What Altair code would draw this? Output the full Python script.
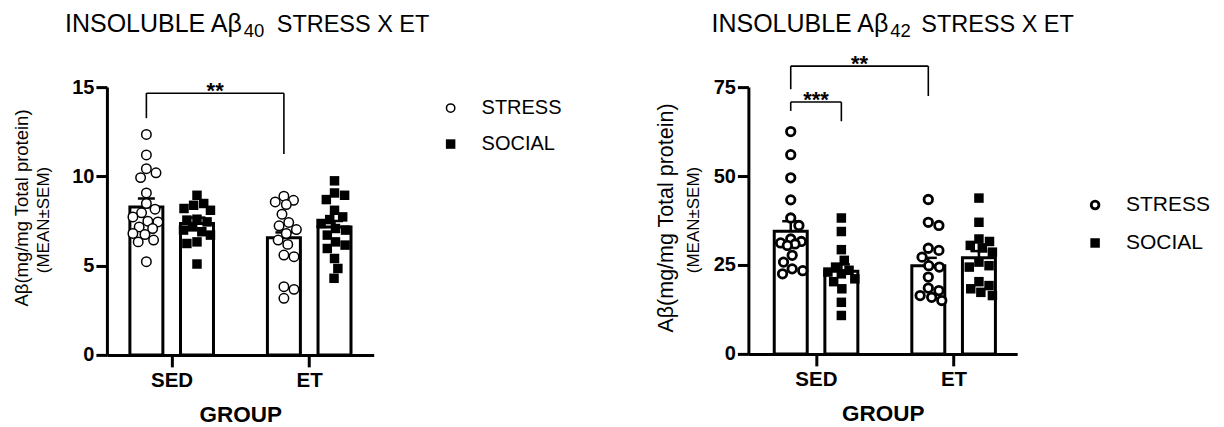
import altair as alt
import pandas as pd

FONT = "Liberation Sans"
GROUPS = ["SED", "ET"]
SERIES = ["STRESS", "SOCIAL"]

# ---------------- Panel 1: insoluble Abeta40 ----------------
A40_SED_STRESS = [12.35, 11.2, 10.43, 10.2, 9.93, 9.07, 8.48, 8.16, 7.96, 7.73,
                  7.49, 7.45, 7.17, 7.08, 6.8, 6.74, 6.43, 6.33, 5.22]
A40_SED_SOCIAL = [8.94, 8.48, 8.38, 8.2, 8.1, 7.6, 7.55, 7.45, 7.17, 6.99,
                  6.9, 6.71, 6.33, 6.24, 5.09]
A40_ET_STRESS = [8.89, 8.66, 8.57, 8.42, 7.88, 7.42, 7.23, 7.02, 6.8, 6.43,
                 6.19, 5.59, 5.5, 3.82, 3.67, 3.17]
A40_ET_SOCIAL = [9.75, 9.07, 8.94, 8.7, 8.1, 7.73, 7.58, 7.36, 7.08, 6.99,
                 6.71, 6.33, 6.15, 5.96, 5.4, 4.84, 4.29]
# bar order: SED-STRESS, SED-SOCIAL, ET-STRESS, ET-SOCIAL
A40_MEAN = [8.29, 7.36, 6.56, 7.17]
A40_SEM = [0.47, 0.33, 0.30, 0.33]
A40_TICKS = [0, 5, 10, 15]
A40_BRACKETS = [("SED", "STRESS", "ET", "STRESS", 14.66, 13.26, 11.25, "**")]

# ---------------- Panel 2: insoluble Abeta42 ----------------
A42_SED_STRESS = [62.5, 56.0, 49.5, 43.3, 38.2, 36.1, 32.3, 31.6, 31.2, 30.9,
                  30.5, 27.7, 25.8, 23.9, 23.4, 22.5]
A42_SED_SOCIAL = [38.2, 34.4, 29.3, 26.3, 24.4, 23.5, 23.0, 22.5, 21.1, 20.3,
                  18.3, 14.5, 10.8]
A42_ET_STRESS = [43.4, 37.0, 36.1, 29.7, 29.1, 27.2, 24.8, 24.4, 21.6, 18.5,
                 17.8, 16.4, 15.9, 15.0]
A42_ET_SOCIAL = [43.8, 37.0, 32.3, 31.6, 30.5, 29.8, 28.6, 25.8, 24.8, 24.4,
                 20.3, 19.2, 18.3, 17.3, 16.4]
A42_MEAN = [34.5, 23.25, 24.8, 27.0]
A42_SEM = [2.8, 1.9, 2.2, 1.9]
A42_TICKS = [0, 25, 50, 75]
A42_BRACKETS = [("SED", "STRESS", "ET", "STRESS", 80.9, 74.4, 72.5, "**"),
                ("SED", "STRESS", "SED", "SOCIAL", 70.8, 68.3, 65.4, "***")]

TITLE_MAIN = "INSOLUBLE A\u03b2"
TITLE_TAIL = "STRESS X ET"
Y_TITLE = "A\u03b2(mg/mg Total protein)"
Y_SUB = "(MEAN\u00b1SEM)"

# layout constants
GROUP_POS = {"SED": 0.0, "ET": 1.0}
SERIES_OFF = {"STRESS": -0.183, "SOCIAL": 0.185}
PX_PER_X = 143.0


def swarm(vals, ppu, diam, step=0.5, maxoff=14.0):
    """Simple beeswarm: horizontal pixel offsets so markers do not overlap."""
    n = int(maxoff / step)
    cands = sorted([k * step for k in range(-n, n + 1)], key=lambda c: (abs(c), -c))
    placed, offs = [], [0.0] * len(vals)
    for i in sorted(range(len(vals)), key=lambda j: -vals[j]):
        y = vals[i] * ppu
        best, best_d, best_c = None, -1, 0.0
        for c in cands:
            d = min([((c - px) ** 2 + (y - py) ** 2) ** 0.5 for px, py in placed] or [1e9])
            if d >= diam:
                best = c
                break
            if d > best_d:
                best_d, best_c = d, c
        if best is None:
            best = best_c
        placed.append((best, y))
        offs[i] = best
    return offs


def txt(text, x, y, size, weight="normal", align="left", baseline="alphabetic",
        angle=0, font=FONT):
    return alt.Chart(pd.DataFrame({"t": [text]})).mark_text(
        fontSize=size, fontWeight=weight, align=align, baseline=baseline,
        angle=angle, font=font, color="black"
    ).encode(text="t:N", x=alt.value(x), y=alt.value(y))


def panel(cfg):
    W, H = cfg["w"], cfg["h"]
    ymax = cfg["ticks"][-1]
    ppu = H / ymax
    rows = []
    for (g, s), vals in cfg["points"].items():
        offs = swarm(vals, ppu, cfg["diam"])
        for v, o in zip(vals, offs):
            rows.append({"group": g, "series": s, "value": v,
                         "x": GROUP_POS[g] + SERIES_OFF[s] + o / PX_PER_X})
    pts = pd.DataFrame(rows)
    keys = [(g, s) for g in GROUPS for s in SERIES]
    bars = pd.DataFrame({"group": [k[0] for k in keys], "series": [k[1] for k in keys],
                         "mean": cfg["mean"], "sem": cfg["sem"]})
    bars["x"] = [GROUP_POS[g] + SERIES_OFF[s] for g, s in keys]
    bars["top"] = bars["mean"] + bars["sem"]

    segs, labs = [], []
    for g1, s1, g2, s2, top, e1, e2, lab in cfg["brackets"]:
        x1 = GROUP_POS[g1] + SERIES_OFF[s1]
        x2 = GROUP_POS[g2] + SERIES_OFF[s2]
        segs += [{"x": x1, "x2": x2, "y": top, "y2": top},
                 {"x": x1, "x2": x1, "y": top, "y2": e1},
                 {"x": x2, "x2": x2, "y": top, "y2": e2}]
        labs.append({"x": (x1 + x2) / 2, "y": top, "label": lab})
    segs = pd.DataFrame(segs)
    labs = pd.DataFrame(labs)

    xs = alt.Scale(domain=cfg["xdom"], nice=False, zero=False)
    ys = alt.Scale(domain=[0, ymax], nice=False)
    xaxis = alt.Axis(values=[0, 1], labelExpr="datum.value < 0.5 ? 'SED' : 'ET'",
                     title="GROUP", grid=False, domainColor="black", domainWidth=3,
                     tickColor="black", tickWidth=3, tickSize=12,
                     labelFont=FONT, labelFontSize=20.5, labelFontWeight="bold",
                     labelColor="black", labelPadding=4, labelFlush=False,
                     titleFont=FONT, titleFontSize=22.5, titleFontWeight="bold",
                     titleColor="black", titlePadding=12)
    yaxis = alt.Axis(values=cfg["ticks"], format="d", title=None, grid=False,
                     domainColor="black", domainWidth=3, tickColor="black",
                     tickWidth=3, tickSize=11, labelFont=FONT, labelFontSize=20,
                     labelFontWeight="bold", labelColor="black", labelPadding=2)

    def X(field="x"):
        return alt.X(f"{field}:Q", scale=xs, axis=xaxis, title="GROUP")

    def Y(field):
        return alt.Y(f"{field}:Q", scale=ys, axis=yaxis, title=None)

    base_bar = alt.Chart(bars).mark_bar(orient="vertical", size=33, fill="white",
                                        stroke="black", strokeWidth=3).encode(
        x=X(), y=Y("mean"))
    err = alt.Chart(bars).mark_rule(color="black", strokeWidth=2.5).encode(
        x=X(), y=Y("mean"), y2="top:Q")
    cap = alt.Chart(bars).mark_tick(orient="horizontal", size=17, thickness=2.5,
                                    color="black", opacity=1).encode(
        x=X(), y=Y("top"))
    circ = alt.Chart(pts).transform_filter(alt.datum.series == "STRESS").mark_point(
        shape="circle", filled=True, fill="white", stroke="black",
        strokeWidth=cfg["cstroke"], size=cfg["csize"], opacity=1).encode(
        x=X(), y=Y("value"))
    sq = alt.Chart(pts).transform_filter(alt.datum.series == "SOCIAL").mark_point(
        shape="square", filled=True, color="black", size=cfg["ssize"], opacity=1).encode(
        x=X(), y=Y("value"))
    br = alt.Chart(segs).mark_rule(color="black", strokeWidth=1.6).encode(
        x=X(), x2="x2:Q", y=Y("y"), y2="y2:Q")
    brt = alt.Chart(labs).mark_text(font=FONT, fontSize=22, fontWeight="bold",
                                    baseline="alphabetic", dy=5, color="black").encode(
        x=X(), y=Y("y"), text="label:N")

    layers = [base_bar, err, cap, circ, sq, br, brt]
    # title with subscript
    (t_main, t_sub, t_tail), ty = cfg["title_pos"]
    layers += [txt(TITLE_MAIN, t_main, ty, 25, align="right"),
               txt(cfg["sub"], t_sub, ty + 5, 18.5),
               txt(TITLE_TAIL, t_tail, ty, 23.5)]
    # y titles
    (mx, my, ms), (sx, sy, ss) = cfg["ytitle"]
    layers += [txt(Y_TITLE, mx, my, ms, align="center", angle=270),
               txt(Y_SUB, sx, sy, ss, align="center", angle=270)]
    # legend
    lx, tx2, ly1, ly2, lfs = cfg["legend"]
    legend_df = pd.DataFrame({"series": SERIES})
    layers += [
        alt.Chart(legend_df).transform_filter(alt.datum.series == "STRESS").mark_point(
            shape="circle", filled=True, fill="white", stroke="black",
            strokeWidth=cfg["lstroke"], size=cfg["lcsize"], opacity=1).encode(
            x=alt.value(lx), y=alt.value(ly1)),
        alt.Chart(legend_df).transform_filter(alt.datum.series == "SOCIAL").mark_point(
            shape="square", filled=True, color="black", size=90, opacity=1).encode(
            x=alt.value(lx), y=alt.value(ly2)),
        txt(SERIES[0], tx2, ly1, lfs, baseline="middle"),
        txt(SERIES[1], tx2, ly2, lfs, baseline="middle"),
    ]
    return alt.layer(*layers).properties(width=W, height=H)


left = panel({
    "w": 267, "h": 268, "ticks": A40_TICKS, "xdom": [-0.4336, 1.4336],
    "points": {("SED", "STRESS"): A40_SED_STRESS, ("SED", "SOCIAL"): A40_SED_SOCIAL,
               ("ET", "STRESS"): A40_ET_STRESS, ("ET", "SOCIAL"): A40_ET_SOCIAL},
    "mean": A40_MEAN, "sem": A40_SEM, "brackets": A40_BRACKETS,
    "diam": 10.5, "cstroke": 1.5, "csize": 90, "ssize": 90,
    "title_pos": ((135, 137, 170), -55), "sub": "40",
    "ytitle": ((-79, 121, 18.5), (-58, 133, 17)),
    "legend": (344, 375, 21, 57, 20), "lstroke": 1.5, "lcsize": 70,
})
right = panel({
    "w": 269, "h": 267, "ticks": A42_TICKS, "xdom": [-0.4545, 1.4266],
    "points": {("SED", "STRESS"): A42_SED_STRESS, ("SED", "SOCIAL"): A42_SED_SOCIAL,
               ("ET", "STRESS"): A42_ET_STRESS, ("ET", "SOCIAL"): A42_ET_SOCIAL},
    "mean": A42_MEAN, "sem": A42_SEM, "brackets": A42_BRACKETS,
    "diam": 11, "cstroke": 2.8, "csize": 72, "ssize": 90,
    "title_pos": ((140, 142, 173), -55), "sub": "42",
    "ytitle": ((-75, 131, 21.5), (-49, 133, 17)),
    "legend": (347, 378, 118, 156, 21), "lstroke": 2.8, "lcsize": 60,
})

chart = alt.hconcat(
    left, right, spacing=375, bounds="flush",
    padding={"left": 5, "top": 4, "right": 5, "bottom": 0},
).configure(font=FONT, background="white", view=alt.ViewConfig(stroke=None))

chart.save("out.html", embed_options={"renderer": "svg", "actions": False})
